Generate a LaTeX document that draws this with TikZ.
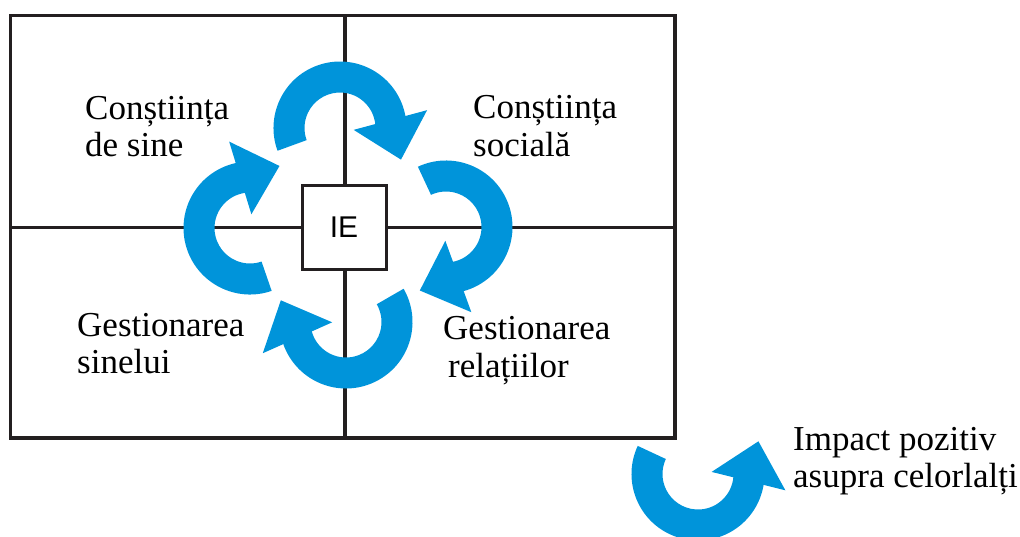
\documentclass[tikz,border=0pt]{standalone}
\usepackage{fontspec}
\setmainfont{Liberation Serif}
\newfontfamily\iefont{Liberation Sans}
\definecolor{ieblue}{RGB}{0,148,218}
\definecolor{ieline}{RGB}{35,31,32}
\newcommand\cwarrow[4]{%
  \begin{scope}[shift={(#1pt,-#2pt)}, rotate=#4]
    \pgfmathsetmacro\sw{#3-#4}
    \fill[ieblue] (\sw:66.5pt) arc[start angle=\sw, end angle=-4, radius=66.5pt]
      -- (-4:35.5pt) arc[start angle=-4, end angle=\sw, radius=35.5pt] -- cycle;
    \fill[ieblue, rotate around={6:(51pt,0pt)}] (13pt,0pt) -- (89pt,0pt) -- (51pt,-41pt) -- cycle;
  \end{scope}}
\newcommand\ccwarrow[4]{%
  \begin{scope}[shift={(#1pt,-#2pt)}, rotate=#4, yscale=-1]
    \pgfmathsetmacro\sw{#4-#3}
    \fill[ieblue] (\sw:66.5pt) arc[start angle=\sw, end angle=-4, radius=66.5pt]
      -- (-4:35.5pt) arc[start angle=-4, end angle=\sw, radius=35.5pt] -- cycle;
    \fill[ieblue, rotate around={6:(51pt,0pt)}] (13pt,0pt) -- (89pt,0pt) -- (51pt,-41pt) -- cycle;
  \end{scope}}
\begin{document}
\begin{tikzpicture}[x=1pt,y=1pt,
  frame/.style={draw=ieline, line width=3.3pt},
  lbl/.style={anchor=base west, inner sep=0pt, font=\fontsize{35}{37}\selectfont}]
\useasboundingbox (0,0) rectangle (1020,-536);
% grid
\coordinate (TL) at (10.7,-15.7);
\coordinate (BR) at (675,-438);
\coordinate (Ttop) at (345,-15.7);
\coordinate (Tbot) at (345,-438);
\coordinate (Lmid) at (10.7,-227.5);
\coordinate (Rmid) at (675,-227.5);
\draw[frame] (TL) rectangle (BR);
\draw[frame] (Ttop) -- (Tbot);
\draw[frame] (Lmid) -- (Rmid);
% cycle arrows
\cwarrow{340}{128}{200}{9}
\cwarrow{446}{227}{115}{-76}
\cwarrow{346}{322}{30}{-162}
\cwarrow{250}{228}{289}{101}
\ccwarrow{698}{474}{155}{352}
% centre box
\node[draw=ieline, line width=3pt, fill=white, minimum width=84pt, minimum height=84pt,
      inner sep=0pt, font=\iefont\fontsize{30}{30}\selectfont] (ie) at (344,-227.5) {IE};
% labels
\node[lbl] (cs1) at (85,-119) {Conștiința};
\node[lbl] (cs2) at (85,-156) {de sine};
\node[lbl] (so1) at (473,-118) {Conștiința};
\node[lbl] (so2) at (473,-156) {socială};
\node[lbl] (gs1) at (77,-336) {Gestionarea};
\node[lbl] (gs2) at (77,-373) {sinelui};
\node[lbl] (gr1) at (443,-339) {Gestionarea};
\node[lbl] (gr2) at (448,-377) {relațiilor};
\node[lbl] (ip1) at (793,-450) {Impact pozitiv};
\node[lbl] (ip2) at (793,-487) {asupra celorlalți};
\end{tikzpicture}
\end{document}
